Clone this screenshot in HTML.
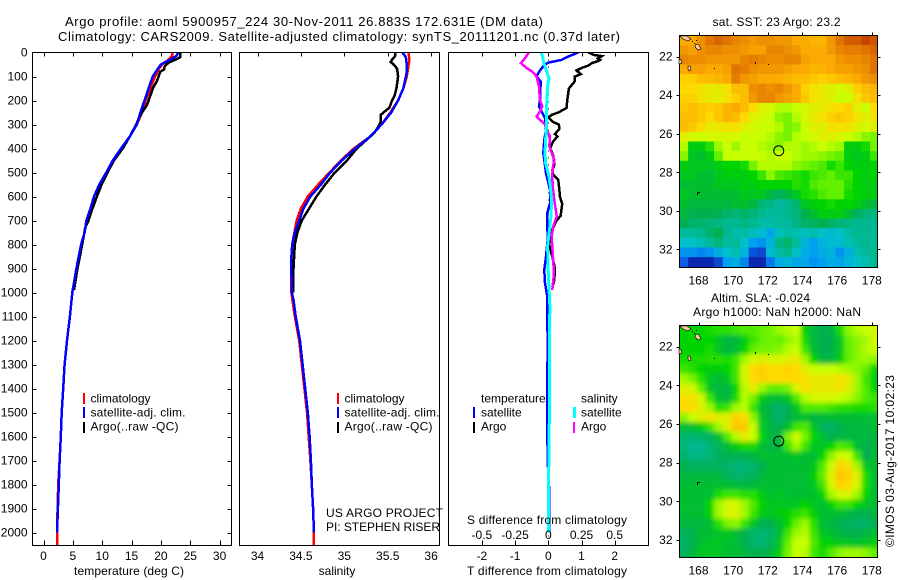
<!DOCTYPE html>
<html lang="en">
<head>
<meta charset="utf-8">
<title>Argo profile</title>
<style>
html,body{margin:0;padding:0;background:#fff;width:900px;height:580px;overflow:hidden}
svg{display:block}
text{font-family:"Liberation Sans",sans-serif;font-size:12px;fill:#000}
.m{text-anchor:middle}
.e{text-anchor:end}
</style>
</head>
<body>
<svg id="fig" xmlns="http://www.w3.org/2000/svg" width="900" height="580" viewBox="0 0 900 580">
  <defs>
    <clipPath id="c1"><rect x="32" y="52" width="200" height="494"/></clipPath>
    <clipPath id="c2"><rect x="239" y="52" width="201" height="494"/></clipPath>
    <clipPath id="c3"><rect x="448" y="52" width="201" height="494"/></clipPath>
    <clipPath id="m1"><rect x="679" y="35" width="198" height="232"/></clipPath>
    <clipPath id="m2"><rect x="679" y="325" width="198" height="232"/></clipPath>
    <filter id="soft" x="-10%" y="-10%" width="120%" height="120%"><feGaussianBlur stdDeviation="2.5"/></filter>
  </defs>

  <text x="65" y="26" style="font-size:13px" textLength="478" lengthAdjust="spacing">Argo profile: aoml 5900957_224 30-Nov-2011 26.883S 172.631E (DM data)</text>
  <text x="58" y="41" style="font-size:13px" textLength="562" lengthAdjust="spacing">Climatology: CARS2009. Satellite-adjusted climatology: synTS_20111201.nc (0.37d later)</text>

  <g id="p1"></g>
  <g id="p2"></g>
  <g id="p3"></g>

  <g>
    <rect x="83" y="393" width="2" height="11" fill="#ff0000"/>
    <rect x="83" y="407" width="2" height="11" fill="#0000ff"/>
    <rect x="83" y="422" width="2" height="11" fill="#000"/>
    <text x="90.5" y="402.5">climatology</text>
    <text x="90.5" y="416.5" textLength="95" lengthAdjust="spacing">satellite-adj. clim.</text>
    <text x="90.5" y="430.5" textLength="88" lengthAdjust="spacing">Argo(..raw -QC)</text>
  </g>
  <g>
    <rect x="337" y="393" width="2" height="11" fill="#ff0000"/>
    <rect x="337" y="407" width="2" height="11" fill="#0000ff"/>
    <rect x="337" y="422" width="2" height="11" fill="#000"/>
    <text x="344.5" y="402.5">climatology</text>
    <text x="344.5" y="416.5" textLength="95" lengthAdjust="spacing">satellite-adj. clim.</text>
    <text x="344.5" y="430.5" textLength="88" lengthAdjust="spacing">Argo(..raw -QC)</text>
    <text x="326" y="517" textLength="117" lengthAdjust="spacing">US ARGO PROJECT</text>
    <text x="326" y="531" textLength="114" lengthAdjust="spacing">PI: STEPHEN RISER</text>
  </g>
  <g>
    <text x="481" y="402.5">temperature</text>
    <rect x="473" y="407" width="2" height="11" fill="#0000ff"/>
    <text x="481" y="416.5">satellite</text>
    <rect x="473" y="422" width="2" height="11" fill="#000"/>
    <text x="481" y="430.5">Argo</text>
    <text x="581" y="402.5">salinity</text>
    <rect x="573" y="407" width="3" height="11" fill="#00ffff"/>
    <text x="581" y="416.5">satellite</text>
    <rect x="573" y="422" width="2" height="11" fill="#ff00ff"/>
    <text x="581" y="430.5">Argo</text>
    <text class="m" x="547" y="524" textLength="160" lengthAdjust="spacing">S difference from climatology</text>
  </g>

  <text class="m" x="129" y="575" textLength="110" lengthAdjust="spacing">temperature (deg C)</text>
  <text class="m" x="337" y="575">salinity</text>
  <text class="m" x="547" y="575" textLength="160" lengthAdjust="spacing">T difference from climatology</text>

  <text class="m" x="776.5" y="26" textLength="128" lengthAdjust="spacing">sat. SST: 23 Argo: 23.2</text>
  <g id="map1"></g>

  <text class="m" x="760.5" y="302" textLength="99" lengthAdjust="spacing">Altim. SLA: -0.024</text>
  <text class="m" x="777" y="316" textLength="168" lengthAdjust="spacing">Argo h1000: NaN h2000: NaN</text>
  <g id="map2"></g>

  <text transform="translate(894,547) rotate(-90)" textLength="172" lengthAdjust="spacing">©IMOS 03-Aug-2017 10:02:23</text>
</svg>

<script>
// ---- axis tick values ----
const depthTicks = [0,100,200,300,400,500,600,700,800,900,1000,1100,1200,1300,1400,1500,1600,1700,1800,1900,2000];
const tempTicks = [0,5,10,15,20,25,30];
const salTicks = [34,34.5,35,35.5,36];
const salTickLabels = ['34','34.5','35','35.5','36'];
const tDiffTicks = [-2,-1,0,1,2];
const sDiffTicks = [-0.5,-0.25,0,0.25,0.5];
const sDiffTickLabels = ['-0.5','-0.25','0','0.25','0.5'];
const lonTicks = [168,170,172,174,176,178];
const latTicks = [22,24,26,28,30,32];

// ---- temperature panel ----
const tempClimDepth = [0,15,30,50,70,100,150,200,250,300,350,400,450,500,550,600,650,700,750,800,900,1000,1100,1200,1300,1400,1500,1600,1700,1800,1900,2000,2054];
const tempClim = [22.0,21.9,21.3,20.2,19.6,19.0,18.2,17.4,16.8,15.9,14.7,13.2,11.8,10.7,9.5,8.6,8.0,7.3,7.0,6.4,5.6,4.9,4.5,4.0,3.6,3.35,3.1,2.95,2.75,2.5,2.4,2.3,2.3];
const tempArgoDepth = [0,20,30,40,50,60,70,80,100,120,150,180,200,220,250,270,300,350,400,450,500,550,600,650,700,730,800,900,990];
const tempArgo = [23.3,23.3,22.44,21.5,20.9,20.6,20.6,19.9,19.6,19.3,18.6,18.2,17.9,17.6,16.8,16.3,15.8,14.7,13.5,12.0,10.9,9.9,9.1,8.35,7.67,7.1,6.6,5.8,5.2];
const tempSatDepth = [0,15,30,40,50,70,100,150,200,250,300,350,400,450,500,550,600,650,700,750,800,900,1000,1100,1200,1300,1400,1500,1600,1700,1800,1900,2000];
const tempSat = [23.0,22.6,21.6,20.7,20.0,19.4,18.6,17.9,17.2,16.5,15.9,14.7,13.2,11.8,10.7,9.5,8.6,8.0,7.3,7.0,6.4,5.6,4.9,4.5,4.0,3.6,3.35,3.1,2.95,2.75,2.6,2.45,2.3];

// ---- salinity panel ----
const salClimDepth = [0,30,100,150,200,250,300,350,400,450,500,550,600,650,700,750,800,900,1000,1100,1200,1300,1400,1500,1600,1700,1800,1900,2000,2054];
const salClim = [35.74,35.75,35.72,35.68,35.62,35.53,35.43,35.30,35.11,34.96,34.83,34.70,34.58,34.50,34.45,34.425,34.40,34.39,34.39,34.43,34.48,34.51,34.54,34.57,34.59,34.61,34.625,34.64,34.65,34.65];
const salArgoDepth = [0,15,30,40,50,60,70,100,150,180,200,230,250,260,290,310,330,350,400,450,500,550,600,650,700,750,800,900,1000];
const salArgo = [35.59,35.585,35.55,35.535,35.57,35.595,35.61,35.62,35.60,35.58,35.55,35.52,35.45,35.42,35.417,35.39,35.355,35.30,35.144,35.03,34.89,34.78,34.68,34.595,34.51,34.46,34.43,34.415,34.41];
const salSatDepth = [0,20,50,80,100,150,200,250,300,350,400,450,500,550,600,650,700,750,800,850,900,1000,1030,1100,1200,1300,1400,1500,1600,1700,1800,1900,2000];
const salSat = [35.67,35.71,35.72,35.72,35.71,35.68,35.62,35.54,35.43,35.30,35.125,34.97,34.84,34.73,34.61,34.53,34.48,34.43,34.40,34.39,34.39,34.395,34.415,34.44,34.49,34.52,34.55,34.58,34.60,34.615,34.625,34.64,34.65];

// ---- difference panel ----
const tDiffArgoDepth = [0,10,15,25,31,35,44,54,64,75,90,100,119,150,200,231,250,260,271,290,300,319,340,350,369,390,400,431,469,490,510,531,569,600,631,650,681,700,729,750,800,850,900,950,979];
const tDiffArgo = [1.21,1.36,1.61,1.49,1.56,1.51,1.31,1.21,1.01,0.85,0.98,0.80,0.80,0.62,0.57,0.55,0.30,0.10,0,0.15,0.32,0.33,0.20,0.28,0.15,0.08,0.06,0.15,0.18,0.12,0.15,0.30,0.33,0.35,0.42,0.40,0.37,0.25,0.15,0.05,0.02,0.12,0.20,0.18,0.12];
const tDiffSatDepth = [0,17,31,42,51,65,86,100,121,197,225,246,274,322,364,419,447,503,572,628,669,781,850,906,961,1017,1072,1200,1500,1700,1800,2000];
const tDiffSat = [0.90,0.60,0.40,0,-0.10,-0.20,-0.30,-0.35,-0.23,-0.25,-0.28,-0.20,-0.10,-0.07,-0.12,-0.15,-0.12,-0.07,0.05,0.05,-0.03,-0.02,-0.07,-0.12,-0.10,-0.03,-0.03,-0.02,-0.03,-0.02,0.02,0.03];
const sDiffArgoDepth = [0,24,44,65,79,100,142,197,225,246,267,287,301,322,350,392,426,447,482,517,558,614,683,725,767,836,919,989];
const sDiffArgo = [-0.146,-0.176,-0.206,-0.163,-0.121,-0.088,-0.07,-0.063,-0.045,-0.063,-0.088,-0.05,-0.025,-0.013,0.013,0.008,0.03,0.045,0.033,0.03,0.033,0.045,0.063,0.038,0.025,0.033,0.043,0.03];
const sDiffSatDepth = [0,17,44,79,107,142,225,294,364,419,461,517,558,614,683,739,808,919,1017,1072,1100,1500,1700,2000];
const sDiffSat = [-0.055,-0.043,-0.033,-0.013,0.005,-0.005,-0.013,-0.013,-0.02,-0.025,-0.02,0.005,0.015,0.025,0.02,0.008,-0.005,0,0.008,0.013,0.01,0.008,0.004,0];

// ---- SST map cells, deg C: rows from north to south, 0.5 degree cells ----
const sstRows = [
[24.0,24.0,24.3,24.6,24.8,24.6,24.4,24.3,24.2,24.3,24.3,24.2,24.2,24.0,24.0,23.9,23.9,24.2,24.6,24.9,24.9,25.2,25.0],
[24.2,24.1,24.3,24.4,24.4,24.3,24.3,24.2,24.1,24.1,24.4,24.4,24.3,24.2,24.0,24.0,24.0,24.2,24.4,24.5,24.5,24.6,24.8],
[24.4,24.3,24.3,24.2,24.2,24.2,24.2,24.4,24.5,24.4,24.3,24.3,24.4,24.4,24.1,24.0,24.0,24.0,24.2,24.3,24.3,24.4,24.6],
[24.0,24.1,24.1,24.0,24.0,24.1,24.6,24.5,24.3,24.2,24.2,24.2,24.1,24.0,24.0,23.9,23.9,24.0,24.1,24.1,24.2,24.3,24.6],
[23.6,23.6,23.8,23.8,23.9,24.0,24.5,24.2,24.1,24.0,24.0,24.0,23.9,23.8,23.8,23.7,23.6,23.7,23.8,23.9,24.0,24.2,24.3],
[23.5,23.5,23.4,23.3,23.3,23.4,23.8,23.8,24.3,24.4,24.3,24.4,24.2,24.0,23.6,23.4,23.3,23.2,23.1,23.2,23.6,23.8,23.9],
[23.6,23.6,23.4,23.3,23.2,23.4,23.6,23.8,24.2,24.4,24.4,24.2,24.1,24.0,23.7,23.4,23.3,23.2,23.0,23.0,23.4,23.7,23.8],
[23.7,23.8,23.7,23.6,23.7,23.9,24.0,23.8,23.5,23.2,23.1,22.9,22.9,23.0,23.1,23.2,23.3,23.4,23.5,23.6,23.2,23.0,23.5],
[23.8,23.8,23.7,23.5,23.7,23.9,23.8,23.5,23.2,23.1,23.0,22.7,22.6,22.9,23.1,23.3,23.4,23.6,23.7,23.6,23.4,23.2,23.4],
[23.8,23.7,23.5,23.3,23.3,23.4,23.4,23.2,23.1,23.0,23.0,22.9,22.6,22.7,23.0,23.2,23.2,23.4,23.4,23.4,23.2,23.1,23.2],
[23.2,23.1,23.0,23.1,23.1,23.1,23.1,23.0,23.0,23.0,22.9,22.7,22.6,22.9,23.0,23.1,23.2,23.2,23.1,23.0,22.9,22.7,22.6],
[22.9,21.9,21.9,22.2,22.8,23.0,22.8,23.0,23.0,22.9,22.8,22.7,22.9,22.9,22.8,22.9,23.0,22.9,22.8,21.9,21.9,22.1,22.6],
[22.7,21.8,21.7,21.9,22.5,23.0,23.0,23.0,23.0,23.0,22.9,23.0,23.0,22.9,22.8,22.8,22.7,22.6,22.5,21.9,21.8,21.9,22.3],
[21.9,21.8,21.8,21.8,21.9,22.0,22.0,22.1,22.6,22.9,22.9,22.9,22.9,22.7,22.6,22.5,22.4,22.1,22.3,22.0,21.9,21.9,22.0],
[21.8,21.8,21.7,21.7,21.8,21.9,21.9,21.9,22.0,22.3,22.7,22.4,22.3,22.2,22.1,22.3,22.4,22.5,22.3,22.3,22.0,21.9,22.0],
[21.7,21.7,21.7,21.7,21.8,21.8,21.8,21.9,21.9,22.0,22.0,22.0,22.0,22.2,22.1,22.4,22.5,22.5,22.5,22.2,22.0,21.9,21.9],
[21.8,21.7,21.7,21.7,21.7,21.7,21.7,21.8,21.8,21.8,21.6,21.4,21.6,21.8,22.1,22.2,22.4,22.5,22.5,22.1,22.0,21.9,21.9],
[21.7,21.6,21.6,21.6,21.6,21.6,21.7,21.7,21.6,21.2,21.1,20.9,21.0,21.3,21.8,21.9,22.0,22.1,22.0,22.0,21.9,21.7,21.6],
[21.6,21.5,21.5,21.5,21.5,21.3,21.2,21.3,21.2,21.0,20.9,20.9,21.0,21.2,21.5,21.7,21.9,21.9,21.9,21.7,21.4,21.2,21.1],
[21.5,21.3,21.3,21.2,21.1,21.0,21.0,21.1,21.0,20.8,20.8,20.9,20.9,21.1,21.3,21.4,21.5,21.3,21.2,21.1,21.0,21.0,21.0],
[20.9,20.9,21.0,21.3,21.5,21.0,20.8,20.8,20.6,20.4,20.1,20.6,20.8,20.7,20.6,20.7,20.5,20.4,20.5,20.8,21.0,21.0,21.0],
[20.5,20.5,20.7,20.9,21.2,20.9,20.9,20.5,20.0,19.9,20.3,21.1,21.3,20.9,20.3,20.0,20.3,20.4,20.4,20.7,20.9,21.0,20.9],
[19.9,19.9,19.8,19.9,20.2,20.5,20.7,20.3,19.4,19.3,20.4,20.8,21.0,20.5,20.2,20.0,20.2,20.3,19.9,20.2,20.7,20.9,21.0],
[19.5,19.0,19.0,19.0,19.3,20.0,20.2,19.8,18.9,18.9,19.7,20.2,20.3,20.1,20.1,19.9,20.0,20.2,20.1,20.3,20.5,20.7,21.0]
];

// ---- SLA map cells, cm: rows from north to south, 0.5 degree cells ----
const slaRows = [
[0,0,0,1,2,2,3,4,4,5,6,8,9,10,-1,-4,-5,-4,1,7,9,10,11],
[0,0,0,0,-2,-4,-4,-1,3,5,6,5,7,9,1,-4,-5,-5,-2,5,7,8,11],
[0,0,0,1,-2,-4,-3,0,5,6,6,7,9,10,3,-3,-5,-5,-2,5,7,9,10],
[1,1,1,2,2,1,3,8,11,12,11,11,12,13,8,0,-4,-4,-1,5,7,8,7],
[3,2,0,-1,-1,0,3,11,15,16,15,15,16,15,12,10,10,10,9,8,7,5,0],
[8,6,2,-2,-3,-2,3,11,15,16,15,15,15,15,14,13,13,13,14,13,8,3,-1],
[12,11,5,-2,-4,-4,0,9,13,8,5,5,6,12,14,13,13,13,14,12,8,4,0],
[14,14,11,3,-3,-4,1,9,6,-1,-3,-3,-2,4,9,11,11,11,10,9,7,4,3],
[15,15,12,8,2,3,8,9,3,-3,-5,-7,-5,-2,4,4,4,3,2,2,1,1,2],
[7,10,12,14,12,12,16,15,7,-2,-5,-7,-5,-3,-3,-4,-4,-3,-3,-3,-3,-3,-3],
[-3,-3,-1,3,8,12,17,17,10,-2,-4,-5,-3,3,4,-2,-6,-7,-5,-4,-4,-4,-3],
[-7,-8,-7,-6,-3,4,9,13,10,0,-4,-4,6,11,6,0,-3,-5,-4,-4,-4,-4,-4],
[-8,-10,-10,-8,-6,-3,-1,1,1,-3,-4,-4,3,8,3,-2,-2,0,4,3,-3,-5,-4],
[-7,-9,-9,-8,-6,-5,-5,-5,-4,-3,-3,-3,-3,-2,-3,-3,0,7,11,10,3,-5,-4],
[-5,-6,-6,-6,-6,-7,-8,-8,-7,-5,-3,-3,-3,-3,-3,-2,4,10,16,14,8,-2,-3],
[-4,-4,-4,-4,-4,-6,-7,-7,-6,-4,-3,-3,-3,-3,-3,-1,5,12,17,16,12,1,-3],
[-3,-3,-3,-3,-3,-3,-4,-4,-4,-3,-3,-3,-3,-3,-3,-2,3,11,16,15,11,1,-3],
[-3,-3,-3,-3,1,3,3,2,2,-1,-3,-2,-3,-3,-3,-3,0,8,11,11,8,0,-3],
[-3,-3,-3,0,8,11,11,8,4,0,-2,-2,-2,-2,0,-2,-3,0,3,3,0,-2,-3],
[-3,-3,-3,0,8,11,12,8,3,-1,-2,-1,0,2,3,0,-3,-3,-3,-4,-5,-5,-4],
[-4,-4,-4,-3,2,6,7,3,-2,-5,-5,-3,0,5,8,2,-3,-4,-5,-6,-7,-7,-5],
[-6,-5,-3,-3,-2,-2,-3,-5,-7,-8,-7,-3,3,8,9,3,-2,-3,-4,-5,-5,-4,-3],
[-7,-5,-3,-2,-2,-3,-3,-5,-7,-8,-6,-2,5,10,10,4,0,-1,-2,-2,-3,-2,-1],
[-6,-4,-2,-2,-2,-3,-3,-4,-5,-5,-4,-1,6,10,9,3,1,4,7,8,8,7,5]
];

const argoLon = 172.631;
const argoLat = 26.883;

// ---- axis functions ----
const NS = 'http://www.w3.org/2000/svg';
const depthY = d => 52.5 + d * 0.24;
const tempX = t => 43.5 + t * 5.87;
const salX = s => 257.5 + (s - 34) * 86.8;
const tDiffX = t => 548.3 + t * 33.2;
const sDiffX = s => 548.3 + s * 132.8;
const lonX = lon => 698.5 + (lon - 168) * 17.33;
const lat1Y = lat => 56.7 + (lat - 22) * 19.27;
const lat2Y = lat => 346.7 + (lat - 22) * 19.33;

const rampColors = [[10,40,175],[10,95,230],[0,160,240],[0,192,200],[0,184,144],[0,176,80],[0,212,0],[96,240,0],[200,255,0],[255,218,0],[250,170,0],[228,125,0],[205,85,0],[190,45,0]];
function ramp(k){
  const c = Math.max(0, Math.min(rampColors.length - 1.001, k));
  const i = Math.floor(c), f = c - i, a = rampColors[i], b = rampColors[i + 1];
  return 'rgb(' + [0,1,2].map(j => Math.round(a[j] + (b[j] - a[j]) * f)).join(',') + ')';
}
const sstColor = v => ramp((v - 19) / 0.5);
const slaColor = v => ramp((v + 30) / 5);

function svgEl(tag, parent){
  const el = document.createElementNS(NS, tag);
  parent.appendChild(el);
  return el;
}
function tick(parent, x1, y1, x2, y2){
  const l = svgEl('line', parent);
  
  
  l.setAttribute('x1', x1); l.setAttribute('y1', y1);
  l.setAttribute('x2', x2); l.setAttribute('y2', y2);
  l.setAttribute('stroke', '#000');
  l.setAttribute('shape-rendering', 'crispEdges');
}
function label(parent, x, y, str, anchor){
  const t = svgEl('text', parent);
  
  
  t.setAttribute('x', x); t.setAttribute('y', y);
  t.setAttribute('text-anchor', anchor);
  t.textContent = str;
}
function frame(parent, x, y, w, h){
  const r = svgEl('rect', parent);
  
  
  r.setAttribute('x', x); r.setAttribute('y', y);
  r.setAttribute('width', w); r.setAttribute('height', h);
  r.setAttribute('fill', 'none');
  r.setAttribute('stroke', '#000');
  r.setAttribute('shape-rendering', 'crispEdges');
}
function profile(parent, name, xs, depths, xFn, color, clip, width){
  const p = svgEl('polyline', parent);
  
  
  p.setAttribute('points', xs.map((v, i) => xFn(v).toFixed(1) + ',' + depthY(depths[i]).toFixed(1)).join(' '));
  p.setAttribute('fill', 'none');
  p.setAttribute('stroke', color);
  p.setAttribute('stroke-width', width || 2.5);
  p.setAttribute('shape-rendering', 'crispEdges');
  p.setAttribute('clip-path', 'url(#' + clip + ')');
}

// ---- panel 1 ----
const p1 = document.getElementById('p1');
profile(p1, 'temperature-climatology-line', tempClim, tempClimDepth, tempX, '#ff0000', 'c1');
profile(p1, 'temperature-argo-line', tempArgo, tempArgoDepth, tempX, '#000000', 'c1');
profile(p1, 'temperature-satellite-line', tempSat, tempSatDepth, tempX, '#0000ff', 'c1');
frame(p1, 32.5, 52.5, 199, 493);
tempTicks.forEach(t => {
  const x = Math.round(tempX(t)) + 0.5;
  tick(p1, x, 52.5, x, 56.5);
  tick(p1, x, 545.5, x, 540.5);
  label(p1, tempX(t), 560, String(t), 'middle');
});
depthTicks.forEach(d => {
  const y = Math.round(depthY(d)) + 0.5;
  if (d > 0) {
    tick(p1, 32.5, y, 36.5, y);
    tick(p1, 231.5, y, 227.5, y);
  }
  label(p1, 27.5, depthY(d) + 4, String(d), 'end');
});

// ---- panel 2 ----
const p2 = document.getElementById('p2');
profile(p2, 'salinity-climatology-line', salClim, salClimDepth, salX, '#ff0000', 'c2');
profile(p2, 'salinity-argo-line', salArgo, salArgoDepth, salX, '#000000', 'c2');
profile(p2, 'salinity-satellite-line', salSat, salSatDepth, salX, '#0000ff', 'c2');
frame(p2, 239.5, 52.5, 200, 493);
salTicks.forEach((s, i) => {
  const x = Math.round(salX(s)) + 0.5;
  tick(p2, x, 52.5, x, 56.5);
  label(p2, salX(s), 560, salTickLabels[i], 'middle');
});

// ---- panel 3 ----
const p3 = document.getElementById('p3');
const zero = svgEl('line', p3);


zero.setAttribute('x1', tDiffX(0));
zero.setAttribute('x2', tDiffX(0));
zero.setAttribute('y1', 52.5);
zero.setAttribute('y2', 545.5);
zero.setAttribute('stroke', '#000');
zero.setAttribute('stroke-dasharray', '1 6');
zero.setAttribute('shape-rendering', 'crispEdges');
profile(p3, 't-difference-argo-line', tDiffArgo, tDiffArgoDepth, tDiffX, '#000000', 'c3');
profile(p3, 't-difference-satellite-line', tDiffSat, tDiffSatDepth, tDiffX, '#0000ff', 'c3');
profile(p3, 's-difference-argo-line', sDiffArgo, sDiffArgoDepth, sDiffX, '#ff00ff', 'c3');
profile(p3, 's-difference-satellite-line', sDiffSat, sDiffSatDepth, sDiffX, '#00ffff', 'c3', 3);
frame(p3, 448.5, 52.5, 200, 493);
tDiffTicks.forEach(t => {
  const x = Math.round(tDiffX(t)) + 0.5;
  tick(p3, x, 52.5, x, 56.5);
  tick(p3, x, 545.5, x, 540.5);
  label(p3, tDiffX(t), 560, String(t), 'middle');
});
sDiffTicks.forEach((s, i) => {
  label(p3, sDiffX(s), 539, sDiffTickLabels[i], 'middle');
});

// ---- maps ----
function drawMap(host, rows, colorFn, yFn, clip, top, bottom, soft, cellName){
  const clipG = svgEl('g', host);
  clipG.setAttribute('clip-path', 'url(#' + clip + ')');
  const g = svgEl('g', clipG);
  if (soft) g.setAttribute('filter', 'url(#soft)');
  rows.forEach((row, r) => {
    row.forEach((v, c) => {
      const rect = svgEl('rect', g);
      
      
      const x0 = lonX(166.9 + c * 0.5), y0 = yFn(20.9 + r * 0.5);
      const pad = soft ? 12 : 0;
      const xL = c === 0 ? x0 - pad : x0;
      const yT = r === 0 ? y0 - pad : y0;
      const xR = lonX(166.9 + (c + 1) * 0.5) + (c === row.length - 1 ? pad : 0) + 0.3;
      const yB = yFn(20.9 + (r + 1) * 0.5) + (r === rows.length - 1 ? pad : 0) + 0.3;
      rect.setAttribute('x', xL.toFixed(2));
      rect.setAttribute('y', yT.toFixed(2));
      rect.setAttribute('width', (xR - xL).toFixed(2));
      rect.setAttribute('height', (yB - yT).toFixed(2));
      rect.setAttribute('fill', colorFn(v));
    });
  });
  frame(host, 679.5, top, 198, bottom - top);
  lonTicks.forEach(lon => {
    const x = Math.round(lonX(lon)) + 0.5;
    tick(host, x, top, x, top - 3);
    label(host, lonX(lon), bottom + 17, String(lon), 'middle');
  });
  latTicks.forEach(lat => {
    const y = Math.round(yFn(lat)) + 0.5;
    tick(host, 679.5, y, 676.5, y);
    tick(host, 877.5, y, 880.5, y);
    label(host, 672.5, yFn(lat) + 4, String(lat), 'end');
  });
  // land specks, offset from the top of each map
  const dy = top - 35.5;
  const land = svgEl('path', host);
  
  
  land.setAttribute('d', 'M680 36h7l4 3-3 2-5-2zM696 44l3 1 2 4-3 1-3-3zM679 59l2 1 1 3-3 1zM688 66l2 0 1 4-2 1-1-2z');
  land.setAttribute('transform', 'translate(0,' + dy + ')');
  land.setAttribute('fill', '#ffc8a0');
  land.setAttribute('stroke', '#000');
  land.setAttribute('stroke-width', '0.6');
  const specks = svgEl('path', host);
  
  
  specks.setAttribute('d', 'M692 41h1v1h-1zM694 43h1v1h-1zM696 40h1v1h-1zM714 68h1v1h-1zM755 62h1v2h-1zM768 64h1v1h-1zM697 192h1v3h-1zM698 192h2v1h-2z');
  specks.setAttribute('transform', 'translate(0,' + dy + ')');
  specks.setAttribute('fill', '#000');
  const ring = svgEl('circle', host);
  
  
  ring.setAttribute('cx', lonX(argoLon));
  ring.setAttribute('cy', yFn(argoLat));
  ring.setAttribute('r', 5);
  ring.setAttribute('fill', 'none');
  ring.setAttribute('stroke', '#000');
}
drawMap(document.getElementById('map1'), sstRows, sstColor, lat1Y, 'm1', 35.5, 267.5, false, 'sst-cell');
drawMap(document.getElementById('map2'), slaRows, slaColor, lat2Y, 'm2', 325.5, 557.5, true, 'sla-cell');
</script>
</body>
</html>
